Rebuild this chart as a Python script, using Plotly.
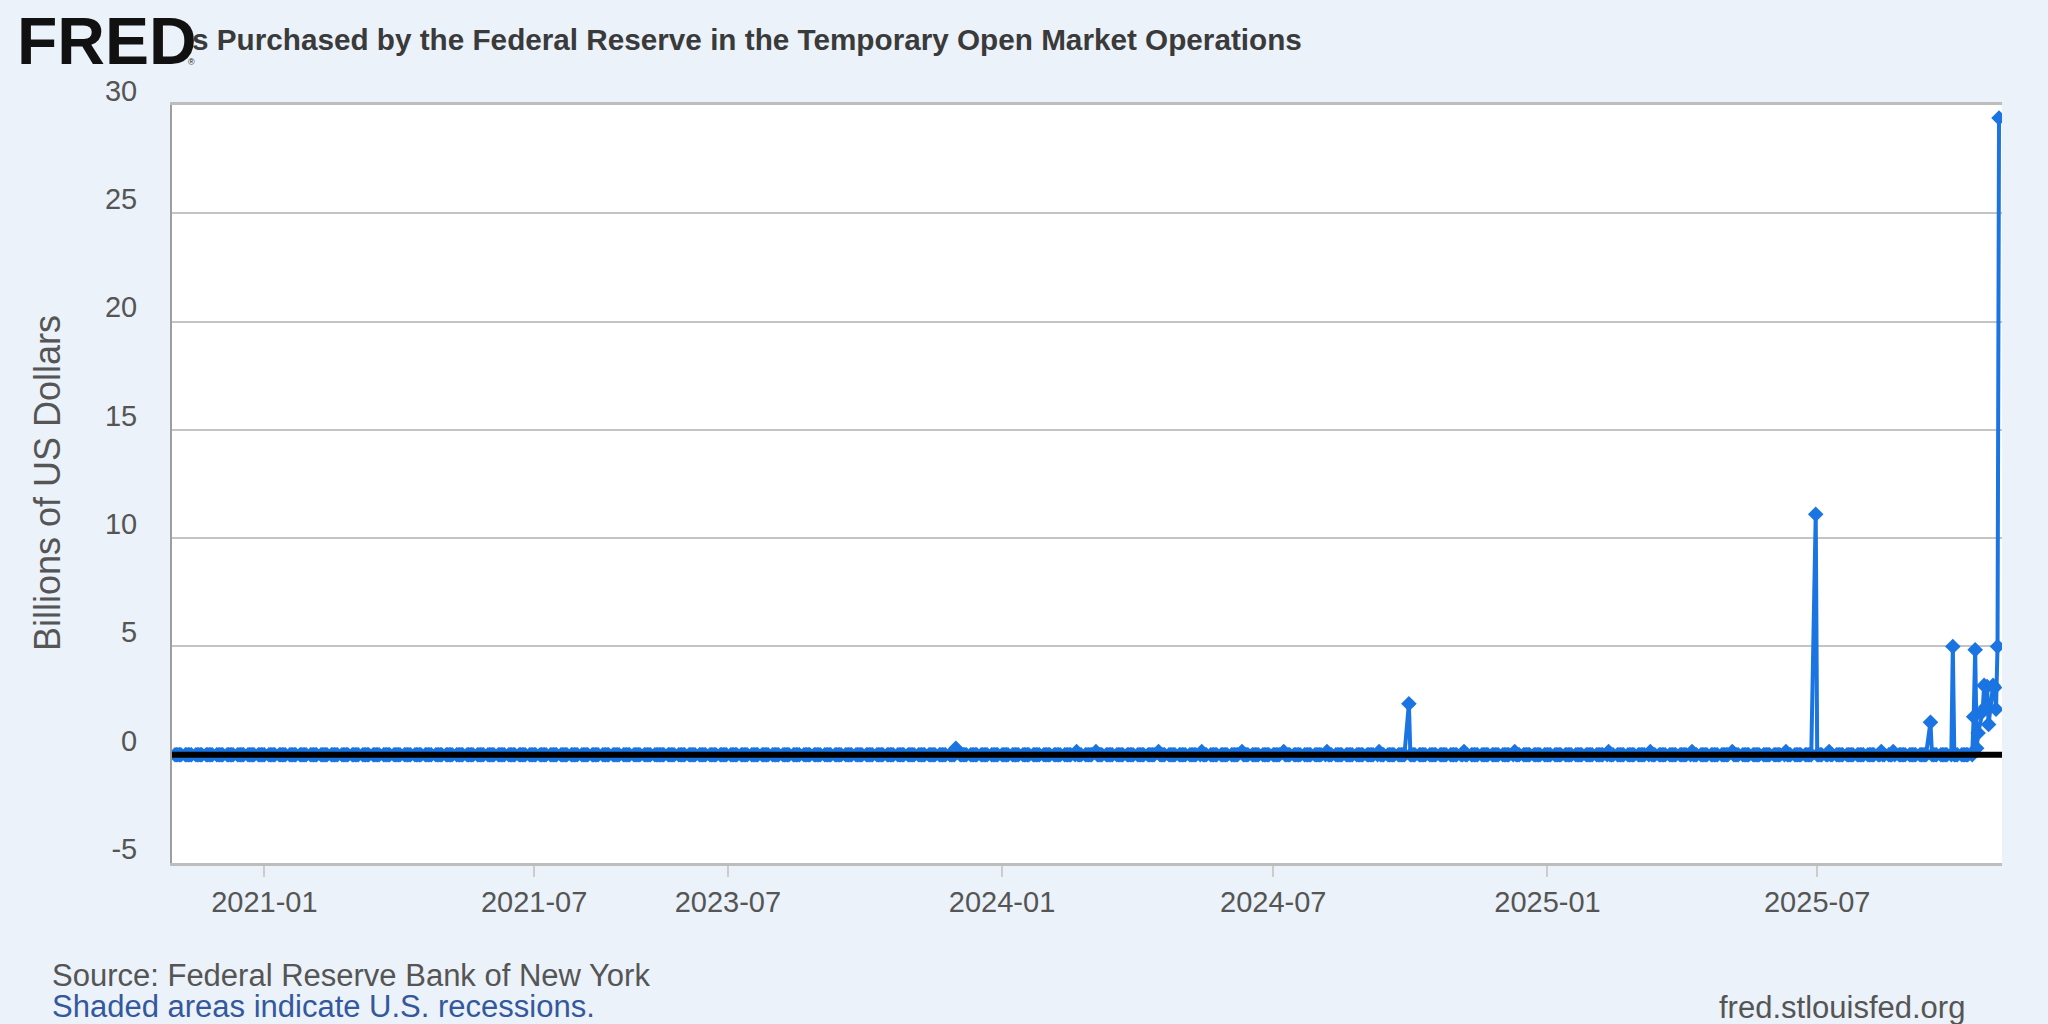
import pandas as pd
import plotly.graph_objects as go

# ---------------- data ----------------
# business-day segments shown on the chart (the axis skips the gap between them)
segment_starts = ["2020-11-02", "2023-05-18"]
segment_ends = ["2021-09-24", "2025-10-31"]
axis_gap = ["2021-09-25", "2023-05-18"]
x_range = ["2020-10-31", "2025-11-02"]

# all other business days are 0
nonzero_dates = [
    "2023-12-01",
    "2024-02-20", "2024-03-04", "2024-04-15", "2024-05-14", "2024-06-10",
    "2024-07-08", "2024-08-06", "2024-09-10", "2024-09-30", "2024-11-06",
    "2024-12-10", "2025-02-11", "2025-03-11", "2025-04-08", "2025-05-05",
    "2025-06-10", "2025-06-30", "2025-07-09", "2025-08-13", "2025-08-21",
    "2025-09-15", "2025-09-30",
    "2025-10-14", "2025-10-15", "2025-10-16", "2025-10-17", "2025-10-20",
    "2025-10-21", "2025-10-22", "2025-10-23", "2025-10-24", "2025-10-27",
    "2025-10-28", "2025-10-29", "2025-10-30", "2025-10-31",
]
nonzero_values = [
    0.3,
    0.15, 0.15, 0.15, 0.15, 0.15,
    0.15, 0.15, 0.15, 2.35, 0.15,
    0.15, 0.15, 0.15, 0.15, 0.15,
    0.15, 11.1, 0.15, 0.15, 0.15,
    1.5, 5.0,
    1.75, 4.85, 0.3, 1.0, 2.0,
    3.2, 2.2, 3.15, 1.4, 3.2,
    3.1, 2.1, 5.0, 29.4,
]

y_ticks = [-5, 0, 5, 10, 15, 20, 25, 30]
y_tick_labels = ["-5", "0", "5", "10", "15", "20", "25", "30"]
x_tick_dates = ["2021-01-01", "2021-07-01", "2023-07-01", "2024-01-01",
                "2024-07-01", "2025-01-01", "2025-07-01"]
x_tick_labels = ["2021-01", "2021-07", "2023-07", "2024-01",
                 "2024-07", "2025-01", "2025-07"]

# ---------------- build series ----------------
dates = []
for s, e in zip(segment_starts, segment_ends):
    dates.extend(pd.bdate_range(s, e))
lookup = {pd.Timestamp(d): v for d, v in zip(nonzero_dates, nonzero_values)}
values = [lookup.get(d, 0.0) for d in dates]

BLUE = "#1a74e2"
GRID = "#c4c4c4"
TXT = "#555555"
BG = "#ebf2fa"
FONT = "Liberation Sans, Arial, sans-serif"

fig = go.Figure()
fig.add_trace(go.Scatter(
    x=dates, y=values, mode="lines+markers",
    line=dict(color=BLUE, width=4),
    marker=dict(symbol="diamond", size=12, color=BLUE, line=dict(width=0)),
    showlegend=False, hoverinfo="x+y",
))

# thick black zero line drawn over the series
fig.add_shape(type="line", xref="paper", x0=0, x1=1, yref="y", y0=0, y1=0,
              line=dict(color="black", width=6), layer="above")

L, R, T, B = 172, 46, 105, 161
W, H = 2048, 1024
pw, ph = W - L - R, H - T - B


def px(x):
    return (x - L) / pw


def py(y):
    return (H - B - y) / ph


ann = []
ann.append(dict(text="<b>FRED</b>", x=px(15), y=py(41), xref="paper", yref="paper",
                xanchor="left", yanchor="middle", showarrow=False,
                font=dict(family=FONT, size=66, color="#111111")))
ann.append(dict(text="®", x=px(186), y=py(62), xref="paper", yref="paper",
                xanchor="left", yanchor="middle", showarrow=False,
                font=dict(family=FONT, size=9, color="#222222")))
ann.append(dict(text="<b>s Purchased by the Federal Reserve in the Temporary Open Market Operations</b>",
                x=px(190), y=py(40), xref="paper", yref="paper",
                xanchor="left", yanchor="middle", showarrow=False,
                font=dict(family=FONT, size=29.7, color="#3a3a3a")))
ann.append(dict(text="Billions of US Dollars", x=px(47), y=py(483), xref="paper", yref="paper",
                xanchor="center", yanchor="middle", textangle=-90, showarrow=False,
                font=dict(family=FONT, size=36, color=TXT)))
ann.append(dict(text="Source: Federal Reserve Bank of New York", x=px(50), y=py(975),
                xref="paper", yref="paper", xanchor="left", yanchor="middle", showarrow=False,
                font=dict(family=FONT, size=31, color=TXT)))
ann.append(dict(text="Shaded areas indicate U.S. recessions.", x=px(50), y=py(1006),
                xref="paper", yref="paper", xanchor="left", yanchor="middle", showarrow=False,
                font=dict(family=FONT, size=31, color="#34589c")))
ann.append(dict(text="fred.stlouisfed.org", x=px(1967), y=py(1007),
                xref="paper", yref="paper", xanchor="right", yanchor="middle", showarrow=False,
                font=dict(family=FONT, size=31, color=TXT)))

fig.update_layout(
    width=W, height=H,
    margin=dict(l=L, r=R, t=T, b=B, pad=0),
    paper_bgcolor=BG,
    plot_bgcolor="white",
    annotations=ann,
    xaxis=dict(
        type="date", range=x_range,
        rangebreaks=[dict(bounds=axis_gap)],
        tickvals=x_tick_dates, ticktext=x_tick_labels,
        showgrid=False, zeroline=False,
        showline=True, linecolor="#bdbdbd", linewidth=3, mirror=True,
        ticks="outside", ticklen=11, tickwidth=1.5, tickcolor="#cccccc",
        tickfont=dict(family=FONT, size=29, color=TXT),
    ),
    yaxis=dict(
        range=[-5, 30], tickvals=y_ticks, ticktext=y_tick_labels,
        showgrid=True, gridcolor=GRID, gridwidth=2,
        zeroline=False,
        showline=True, linecolor="#9e9e9e", linewidth=2,
        ticks="", ticklabelposition="outside top", ticklabelstandoff=27,
        ticklabelshift=6,
        tickfont=dict(family=FONT, size=29, color=TXT),
    ),
)

fig.write_html(
    "out.html",
    config={"displayModeBar": False},
    post_script=(
        "document.body.style.margin='0';"
        "document.body.style.overflow='hidden';"
        "document.body.style.background='" + BG + "';"
    ),
)
